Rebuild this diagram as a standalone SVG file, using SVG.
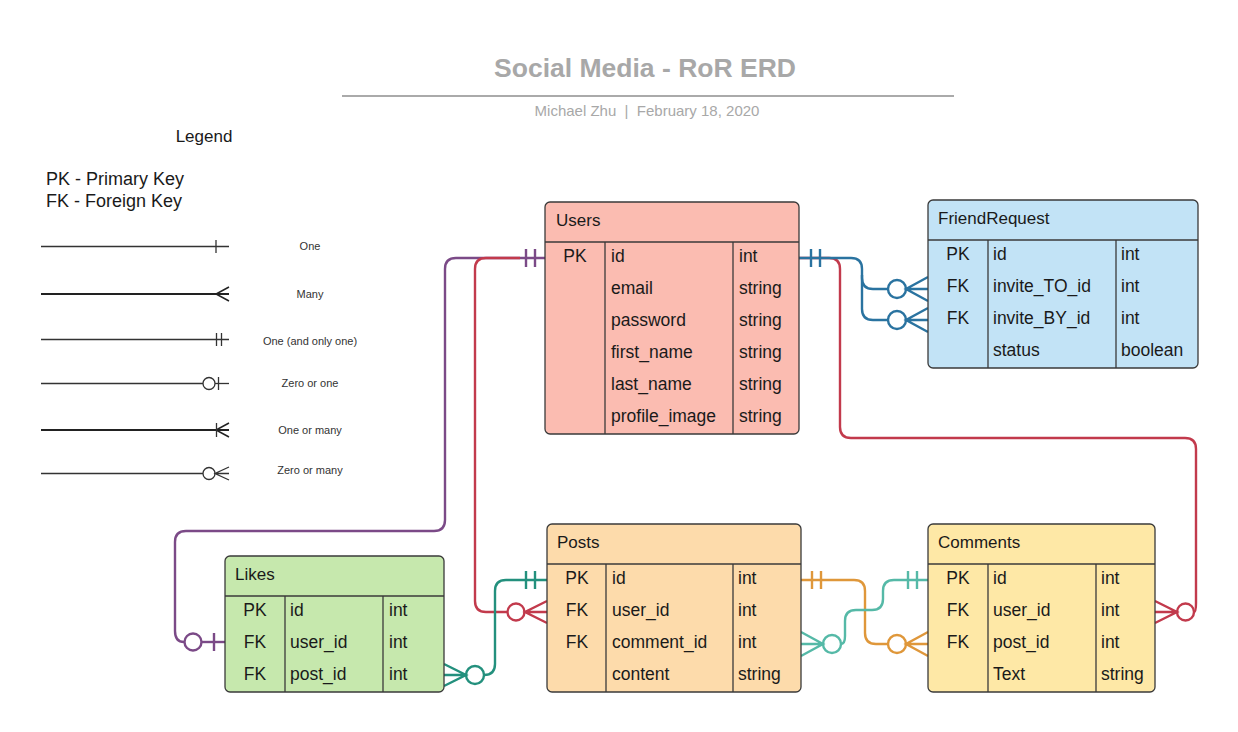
<svg xmlns="http://www.w3.org/2000/svg" width="1238" height="732" viewBox="0 0 1238 732">
<style>
text{font-family:"Liberation Sans",Arial,sans-serif;fill:#1a1a1a}
.title{font-size:26.5px;font-weight:bold;fill:#a8a8a8}
.sub{font-size:15px;fill:#a8a8a8}
.leg{font-size:18px}
.ll{font-size:11px;fill:#333}
.lg{stroke:#333;stroke-width:1.3;fill:none}
.lgb{stroke:#222;stroke-width:2;fill:none}
.box{stroke:#3a3a3a;stroke-width:1.3}
.sep{stroke:#3a3a3a;stroke-width:1.3}
.hd{font-size:17px}
.c{font-size:17.5px}
.k{font-size:17.5px;text-anchor:middle}
.cn{fill:none;stroke-width:2.4}
.cc{fill:#fff;stroke-width:2.4}
.pu{stroke:#7b4a87}
.rd{stroke:#c23a4c}
.bl{stroke:#2a73a0}
.tl{stroke:#23907d}
.or{stroke:#df973a}
.lt{stroke:#55b9a7}
</style>

<g id="title">
<text class="title" x="645" y="77" text-anchor="middle">Social Media - RoR ERD</text>
<line x1="342" y1="96" x2="954" y2="96" stroke="#aaa" stroke-width="2"/>
<text class="sub" x="647" y="116" text-anchor="middle">Michael Zhu&#160; |&#160; February 18, 2020</text>
</g>

<g id="legend">
<text x="204" y="142" text-anchor="middle" style="font-size:17px">Legend</text>
<text class="leg" x="46" y="185">PK - Primary Key</text>
<text class="leg" x="46" y="207">FK - Foreign Key</text>
<line class="lg" x1="41" y1="246.5" x2="229" y2="246.5"/>
<line class="lg" x1="216" y1="240" x2="216" y2="253"/>
<text class="ll" x="310" y="250" text-anchor="middle">One</text>
<line class="lgb" x1="41" y1="294" x2="229" y2="294"/>
<path class="lgb" d="M229,287 L216,294 L229,301" style="stroke-width:1.5"/>
<text class="ll" x="310" y="298" text-anchor="middle">Many</text>
<line class="lg" x1="41" y1="339.5" x2="229" y2="339.5"/>
<line class="lg" x1="216.5" y1="333" x2="216.5" y2="346"/>
<line class="lg" x1="221.5" y1="333" x2="221.5" y2="346"/>
<text class="ll" x="310" y="345" text-anchor="middle">One (and only one)</text>
<line class="lg" x1="41" y1="383.5" x2="203" y2="383.5"/>
<circle class="lg" cx="209" cy="383.5" r="6"/>
<line class="lg" x1="215" y1="383.5" x2="229" y2="383.5"/>
<line class="lg" x1="218.5" y1="377" x2="218.5" y2="390"/>
<text class="ll" x="310" y="387" text-anchor="middle">Zero or one</text>
<line class="lgb" x1="41" y1="430" x2="229" y2="430"/>
<path class="lgb" d="M229,423 L216,430 L229,437" style="stroke-width:1.5"/>
<line class="lg" x1="216.5" y1="423" x2="216.5" y2="437"/>
<text class="ll" x="310" y="434" text-anchor="middle">One or many</text>
<line class="lg" x1="41" y1="473.5" x2="203" y2="473.5"/>
<circle class="lg" cx="209" cy="473.5" r="6"/>
<path class="lg" d="M229,467 L215,473.5 L229,480 M215,473.5 H229"/>
<text class="ll" x="310" y="474" text-anchor="middle">Zero or many</text>
</g>

<g id="connectors">
<g id="users-likes">
<path class="cn pu" d="M545,258 H456 Q445,258 445,269 V520 Q445,531 434,531 H186 Q175,531 175,542 V631 Q175,642 184,642"/>
<line class="cn pu" x1="202" y1="642" x2="225" y2="642"/>
<circle class="cc pu" cx="193" cy="642" r="8.5"/>
<line class="cn pu" x1="214" y1="633" x2="214" y2="651"/>
<line class="cn pu" x1="526" y1="249" x2="526" y2="267"/>
<line class="cn pu" x1="535" y1="249" x2="535" y2="267"/>
</g>
<g id="users-posts">
<path class="cn rd" d="M520,258 H486 Q475,258 475,269 V601 Q475,612 486,612 H507"/>
<circle class="cc rd" cx="516" cy="612" r="8.5"/>
<path class="cn rd" d="M547,601 L525,612 L547,623 M525,612 H547"/>
</g>
<g id="users-comments">
<path class="cn rd" d="M799,258 H829 Q840,258 840,269 V427 Q840,438 851,438 H1185 Q1196,438 1196,449 V603 Q1196,612 1194,612"/>
<circle class="cc rd" cx="1185.5" cy="612" r="8.5"/>
<path class="cn rd" d="M1155,601 L1177,612 L1155,623 M1177,612 H1155"/>
</g>
<g id="users-friendrequest">
<path class="cn bl" d="M799,258 H851 Q862,258 862,269 V278 Q862,289 873,289 H888"/>
<path class="cn bl" d="M862,275 V309 Q862,320 873,320 H888"/>
<line class="cn bl" x1="811" y1="249" x2="811" y2="267"/>
<line class="cn bl" x1="820" y1="249" x2="820" y2="267"/>
<circle class="cc bl" cx="897" cy="289" r="9"/>
<path class="cn bl" d="M928,277 L906,289 L928,301 M906,289 H928"/>
<circle class="cc bl" cx="897" cy="320" r="9"/>
<path class="cn bl" d="M928,308 L906,320 L928,332 M906,320 H928"/>
</g>
<g id="posts-likes">
<path class="cn tl" d="M547,580 H506 Q495,580 495,591 V664 Q495,675 484,675"/>
<line class="cn tl" x1="526" y1="571" x2="526" y2="589"/>
<line class="cn tl" x1="535" y1="571" x2="535" y2="589"/>
<circle class="cc tl" cx="475" cy="675" r="9"/>
<path class="cn tl" d="M444,664 L466,675 L444,686 M466,675 H444"/>
</g>
<g id="posts-comments">
<path class="cn or" d="M801,580 H854 Q865,580 865,591 V633 Q865,644 876,644 H888"/>
<line class="cn or" x1="812" y1="571" x2="812" y2="589"/>
<line class="cn or" x1="821" y1="571" x2="821" y2="589"/>
<circle class="cc or" cx="897" cy="644" r="9"/>
<path class="cn or" d="M928,632 L906,644 L928,656 M906,644 H928"/>
</g>
<g id="comments-posts">
<path class="cn lt" d="M928,580 H894 Q883,580 883,591 V599 Q883,610 872,610 H856 Q845,610 845,621 V636 Q845,644 841,644"/>
<line class="cn lt" x1="908" y1="571" x2="908" y2="589"/>
<line class="cn lt" x1="917" y1="571" x2="917" y2="589"/>
<circle class="cc lt" cx="832" cy="644" r="9"/>
<path class="cn lt" d="M801,632 L823,644 L801,656 M823,644 H801"/>
</g>
</g>

<g id="users">
<rect class="box" x="545" y="202" width="254" height="232" rx="5" fill="#fbbcb1"/>
<line class="sep" x1="545" y1="242" x2="799" y2="242"/>
<line class="sep" x1="605" y1="242" x2="605" y2="434"/>
<line class="sep" x1="733" y1="242" x2="733" y2="434"/>
<text class="hd" x="556" y="226">Users</text>
<text class="k" x="575" y="262">PK</text>
<text class="c" x="611" y="262">id</text><text class="c" x="739" y="262">int</text>
<text class="c" x="611" y="294">email</text><text class="c" x="739" y="294">string</text>
<text class="c" x="611" y="326">password</text><text class="c" x="739" y="326">string</text>
<text class="c" x="611" y="358">first_name</text><text class="c" x="739" y="358">string</text>
<text class="c" x="611" y="390">last_name</text><text class="c" x="739" y="390">string</text>
<text class="c" x="611" y="422">profile_image</text><text class="c" x="739" y="422">string</text>
</g>

<g id="friendrequest">
<rect class="box" x="928" y="200" width="270" height="168" rx="5" fill="#c2e3f6"/>
<line class="sep" x1="928" y1="240" x2="1198" y2="240"/>
<line class="sep" x1="988" y1="240" x2="988" y2="368"/>
<line class="sep" x1="1116" y1="240" x2="1116" y2="368"/>
<text class="hd" x="938" y="224">FriendRequest</text>
<text class="k" x="958" y="260">PK</text>
<text class="c" x="993" y="260">id</text><text class="c" x="1121" y="260">int</text>
<text class="k" x="958" y="292">FK</text>
<text class="c" x="993" y="292">invite_TO_id</text><text class="c" x="1121" y="292">int</text>
<text class="k" x="958" y="324">FK</text>
<text class="c" x="993" y="324">invite_BY_id</text><text class="c" x="1121" y="324">int</text>
<text class="c" x="993" y="356">status</text><text class="c" x="1121" y="356">boolean</text>
</g>

<g id="posts">
<rect class="box" x="547" y="524" width="254" height="168" rx="5" fill="#fddbab"/>
<line class="sep" x1="547" y1="564" x2="801" y2="564"/>
<line class="sep" x1="606" y1="564" x2="606" y2="692"/>
<line class="sep" x1="733" y1="564" x2="733" y2="692"/>
<text class="hd" x="557" y="548">Posts</text>
<text class="k" x="577" y="584">PK</text>
<text class="c" x="612" y="584">id</text><text class="c" x="738" y="584">int</text>
<text class="k" x="577" y="616">FK</text>
<text class="c" x="612" y="616">user_id</text><text class="c" x="738" y="616">int</text>
<text class="k" x="577" y="648">FK</text>
<text class="c" x="612" y="648">comment_id</text><text class="c" x="738" y="648">int</text>
<text class="c" x="612" y="680">content</text><text class="c" x="738" y="680">string</text>
</g>

<g id="comments">
<rect class="box" x="928" y="524" width="227" height="168" rx="5" fill="#fee8a6"/>
<line class="sep" x1="928" y1="564" x2="1155" y2="564"/>
<line class="sep" x1="988" y1="564" x2="988" y2="692"/>
<line class="sep" x1="1096" y1="564" x2="1096" y2="692"/>
<text class="hd" x="938" y="548">Comments</text>
<text class="k" x="958" y="584">PK</text>
<text class="c" x="993" y="584">id</text><text class="c" x="1101" y="584">int</text>
<text class="k" x="958" y="616">FK</text>
<text class="c" x="993" y="616">user_id</text><text class="c" x="1101" y="616">int</text>
<text class="k" x="958" y="648">FK</text>
<text class="c" x="993" y="648">post_id</text><text class="c" x="1101" y="648">int</text>
<text class="c" x="993" y="680">Text</text><text class="c" x="1101" y="680">string</text>
</g>

<g id="likes">
<rect class="box" x="225" y="556" width="219" height="136" rx="5" fill="#c6e8ad"/>
<line class="sep" x1="225" y1="596" x2="444" y2="596"/>
<line class="sep" x1="285" y1="596" x2="285" y2="692"/>
<line class="sep" x1="383" y1="596" x2="383" y2="692"/>
<text class="hd" x="235" y="580">Likes</text>
<text class="k" x="255" y="616">PK</text>
<text class="c" x="290" y="616">id</text><text class="c" x="389" y="616">int</text>
<text class="k" x="255" y="648">FK</text>
<text class="c" x="290" y="648">user_id</text><text class="c" x="389" y="648">int</text>
<text class="k" x="255" y="680">FK</text>
<text class="c" x="290" y="680">post_id</text><text class="c" x="389" y="680">int</text>
</g>
</svg>
